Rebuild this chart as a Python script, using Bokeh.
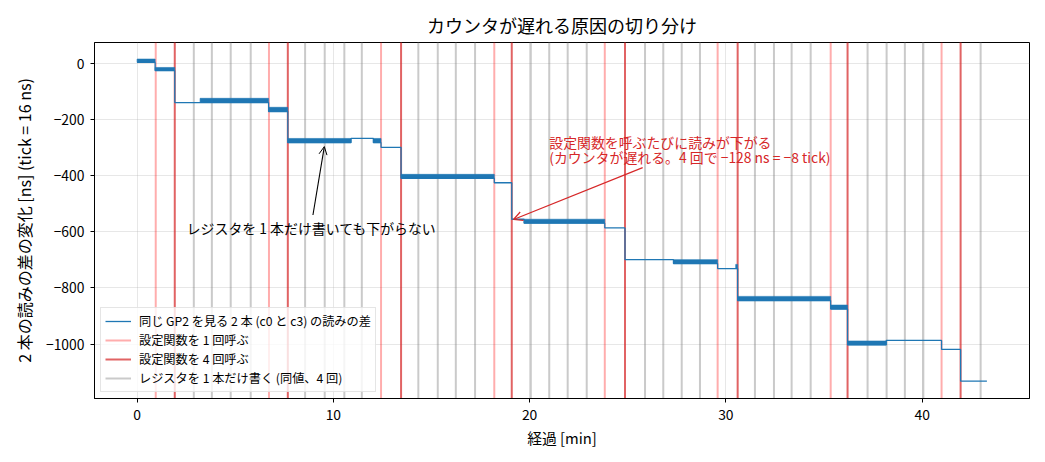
from bokeh.plotting import figure
from bokeh.models import (Legend, LegendItem, Arrow, OpenHead, Label, Range1d,
                          SingleIntervalTicker, CustomJSTickFormatter)
from bokeh.embed import file_html
from bokeh.resources import INLINE

FONT = "Noto Sans CJK JP"
BLUE = "#1f77b4"
RED = "#d62728"

# difference of the two readings, one entry per plateau
# start / end [min], low / high [ns] (low == high: steady, otherwise flickering by a tick)
seg_start = [0.00, 0.92, 1.92, 3.21, 6.70, 7.68, 10.90, 12.04, 12.43, 13.45, 18.20, 19.09,
             19.72, 23.83, 24.86, 27.33, 29.58, 30.50, 30.60, 35.34, 36.20, 38.17, 40.99, 41.96]
seg_end = [0.92, 1.92, 3.21, 6.70, 7.68, 10.90, 12.04, 12.43, 13.45, 18.20, 19.09, 19.72,
           23.83, 24.86, 27.33, 29.58, 30.50, 30.60, 35.34, 36.20, 38.17, 40.99, 41.96, 43.30]
seg_lo = [4, -25, -139, -139, -171, -282, -267, -282, -299, -409, -425, -555,
          -569, -586, -699, -713, -731, -731, -845, -875, -1003, -987, -1019, -1132]
seg_hi = [16, -14, -139, -124, -156, -267, -267, -267, -299, -395, -425, -555,
          -555, -586, -699, -699, -731, -716, -830, -861, -989, -987, -1019, -1132]

# event times [min]
call1_min = [0.95, 6.72, 12.43, 18.20, 23.83, 29.58, 35.34, 40.99]
call4_min = [1.92, 7.68, 13.45, 19.09, 24.86, 30.60, 36.20, 41.96]
write_min = [2.89, 3.81, 4.77, 5.79, 8.56, 9.56, 10.56, 11.45, 14.33, 15.32, 16.24, 17.22,
             20.06, 21.00, 21.94, 22.91, 25.88, 26.81, 27.75, 28.68, 31.48, 32.45, 33.35,
             34.32, 37.22, 38.19, 39.12, 40.06, 42.98]

p = figure(width=1040, height=458, output_backend="svg", toolbar_location=None,
           x_range=Range1d(-2.17, 45.47), y_range=Range1d(-1194, 75),
           min_border_left=94, min_border_right=11, min_border_top=42, min_border_bottom=60,
           title="カウンタが遅れる原因の切り分け")

p.title.align = "center"
p.title.text_font = FONT
p.title.text_font_size = "18px"
p.title.text_font_style = "normal"
p.title.text_color = "black"

p.outline_line_color = "black"
p.outline_line_alpha = 1
p.grid.grid_line_color = "#b0b0b0"
p.grid.grid_line_alpha = 0.3
p.xaxis.ticker = SingleIntervalTicker(interval=10)
p.yaxis.ticker = SingleIntervalTicker(interval=200)
p.yaxis.formatter = CustomJSTickFormatter(code="return tick < 0 ? '\u2212' + (-tick) : String(tick);")
p.xaxis.axis_label = "経過 [min]"
p.yaxis.axis_label = "2 本の読みの差の変化 [ns] (tick = 16 ns)"
for ax in (p.xaxis, p.yaxis):
    ax.axis_label_text_font = FONT
    ax.axis_label_text_font_style = "normal"
    ax.axis_label_text_color = "black"
    ax.major_label_text_font = FONT
    ax.major_label_text_font_size = "13.9px"
    ax.major_label_text_color = "black"
    ax.major_tick_in = 0
    ax.major_tick_out = 4
    ax.minor_tick_line_color = None
    ax.axis_line_color = "black"
    ax.major_label_standoff = 6
p.xaxis.axis_label_text_font_size = "14.8px"
p.yaxis.axis_label_text_font_size = "16px"
p.xaxis.axis_label_standoff = 4
p.yaxis.axis_label_standoff = 7

span = dict(y0=-5000, y1=5000)
r_call1 = p.segment(x0=call1_min, x1=call1_min, line_color="red", line_alpha=0.32,
                    line_width=2, **span)
r_call4 = p.segment(x0=call4_min, x1=call4_min, line_color=RED, line_alpha=0.72,
                    line_width=2, **span)
r_write = p.segment(x0=write_min, x1=write_min, line_color="gray", line_alpha=0.42,
                    line_width=2, **span)

# flickering plateaus drawn as a band between the two readings
noisy = [i for i in range(len(seg_start)) if seg_hi[i] > seg_lo[i]]
p.quad(left=[seg_start[i] for i in noisy], right=[seg_end[i] for i in noisy],
       bottom=[seg_lo[i] for i in noisy], top=[seg_hi[i] for i in noisy],
       fill_color=BLUE, line_color=BLUE, line_width=0.6)

xs, ys = [], []
for s, e, lo in zip(seg_start, seg_end, seg_lo):
    xs += [s, e]
    ys += [lo, lo]
r_diff = p.line(xs, ys, line_color=BLUE, line_width=1.3)

p.add_layout(Arrow(end=OpenHead(size=8, line_color="black", line_width=1),
                   x_start=8.96, y_start=-540, x_end=9.54, y_end=-296,
                   line_color="black", line_width=1.1))
p.add_layout(Label(x=8.9, y=-587, text="レジスタを 1 本だけ書いても下がらない",
                   text_align="center", text_baseline="middle",
                   text_font=FONT, text_font_size="13.9px", text_color="black"))

p.add_layout(Arrow(end=OpenHead(size=9, line_color=RED, line_width=1.2),
                   x_start=25.76, y_start=-371, x_end=19.18, y_end=-556,
                   line_color=RED, line_width=1.2))
p.add_layout(Label(x=21.0, y=-280, text="設定関数を呼ぶたびに読みが下がる",
                   text_baseline="middle", text_color=RED,
                   text_font=FONT, text_font_size="13.9px"))
p.add_layout(Label(x=21.0, y=-334, text="(カウンタが遅れる。4 回で \u2212128 ns = \u22128 tick)",
                   text_baseline="middle", text_color=RED,
                   text_font=FONT, text_font_size="13.9px"))

legend = Legend(items=[
    LegendItem(label="同じ GP2 を見る 2 本 (c0 と c3) の読みの差", renderers=[r_diff]),
    LegendItem(label="設定関数を 1 回呼ぶ", renderers=[r_call1]),
    LegendItem(label="設定関数を 4 回呼ぶ", renderers=[r_call4]),
    LegendItem(label="レジスタを 1 本だけ書く (同値、4 回)", renderers=[r_write]),
], location="bottom_left")
legend.margin = 6
legend.padding = 4
legend.spacing = 1
legend.label_height = 14
legend.glyph_height = 14
legend.glyph_width = 26
legend.label_standoff = 8
legend.label_text_font = FONT
legend.label_text_font_size = "12.2px"
legend.label_text_color = "black"
legend.border_line_color = "#cccccc"
legend.background_fill_alpha = 0.8
p.add_layout(legend)

open("out.html", "w").write(file_html(p, INLINE))
